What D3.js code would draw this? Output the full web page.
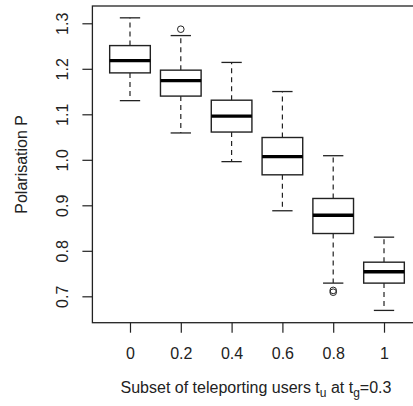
<!DOCTYPE html>
<html><head><meta charset="utf-8">
<script src="https://cdn.jsdelivr.net/npm/d3@7"></script>
<style>body{margin:0;background:#fff}svg{display:block}text{font-family:"Liberation Sans",Arial,sans-serif;fill:#222}</style>
</head><body><div id="chart"></div>
<script>
const categories = ["0","0.2","0.4","0.6","0.8","1"];
const whiskerLow = [1.130,1.059,0.996,0.888,0.729,0.669];
const q1 =        [1.191,1.140,1.061,0.967,0.838,0.729];
const median =    [1.218,1.174,1.096,1.007,0.878,0.754];
const q3 =        [1.251,1.197,1.131,1.049,0.915,0.775];
const whiskerHigh=[1.312,1.273,1.214,1.150,1.009,0.830];
const outliers = [[],[1.287],[],[],[0.713,0.709],[]];
const yTicks = [0.7,0.8,0.9,1.0,1.1,1.2,1.3];

const W=413,H=406;
const FONT="Liberation Sans, Arial, sans-serif";
const svg=d3.select("#chart").append("svg").attr("width",W).attr("height",H);
const x=d3.scaleLinear().domain([0.26,6.74]).range([92.4,421.6]);
const y=d3.scaleLinear().domain([0.642,1.338]).range([322.7,6]);
const bw=(x(1)-x(0))*0.8;
const stroke="#222";

// frame
svg.append("rect").attr("x",x(0.26)).attr("y",y(1.338)).attr("width",x(6.74)-x(0.26)).attr("height",y(0.642)-y(1.338))
  .attr("fill","none").attr("stroke",stroke).attr("stroke-width",1.3);

// y axis
const yAxis=d3.axisLeft(y).tickValues(yTicks).tickFormat(d3.format(".1f")).tickSizeOuter(0).tickSize(10);
const gy=svg.append("g").attr("transform",`translate(${x(0.26)},0)`).call(yAxis);
gy.select(".domain").remove();
gy.selectAll("line").attr("stroke",stroke).attr("stroke-width",1.2);
gy.selectAll(".tick text").attr("x",null).attr("dy","0.35em").attr("text-anchor","middle")
  .attr("transform","translate(-30,0) rotate(-90)")
  .attr("font-size",16).attr("font-family",FONT).attr("fill","#222");

// x axis
const xAxis=d3.axisBottom(x).tickValues(d3.range(1,7)).tickFormat((d)=>categories[d-1]).tickSizeOuter(0).tickSize(10).tickPadding(15);
const gx=svg.append("g").attr("transform",`translate(0,${y(0.642)})`).call(xAxis);
gx.select(".domain").remove();
gx.selectAll("line").attr("stroke",stroke).attr("stroke-width",1.2);
gx.selectAll("text").attr("font-size",16).attr("font-family",FONT).attr("fill","#222");

// boxes
categories.forEach((c,i)=>{
  const cx=x(i+1);
  const g=svg.append("g");
  g.append("line").attr("x1",cx).attr("x2",cx).attr("y1",y(q3[i])).attr("y2",y(whiskerHigh[i])).attr("stroke",stroke).attr("stroke-width",1.2).attr("stroke-dasharray","5,4");
  g.append("line").attr("x1",cx).attr("x2",cx).attr("y1",y(q1[i])).attr("y2",y(whiskerLow[i])).attr("stroke",stroke).attr("stroke-width",1.2).attr("stroke-dasharray","5,4");
  [whiskerHigh[i],whiskerLow[i]].forEach(v=>{
    g.append("line").attr("x1",cx-bw/4).attr("x2",cx+bw/4).attr("y1",y(v)).attr("y2",y(v)).attr("stroke",stroke).attr("stroke-width",1.3);
  });
  g.append("rect").attr("x",cx-bw/2).attr("width",bw).attr("y",y(q3[i])).attr("height",y(q1[i])-y(q3[i]))
    .attr("fill","#fff").attr("stroke",stroke).attr("stroke-width",1.4);
  g.append("line").attr("x1",cx-bw/2).attr("x2",cx+bw/2).attr("y1",y(median[i])).attr("y2",y(median[i])).attr("stroke","#000").attr("stroke-width",3.4);
  outliers[i].forEach(v=>{
    g.append("circle").attr("cx",cx).attr("cy",y(v)).attr("r",3.3).attr("fill","none").attr("stroke",stroke).attr("stroke-width",1);
  });
});

// axis titles
svg.append("text").attr("transform",`translate(21,${(y(1.338)+y(0.642))/2}) rotate(-90)`).attr("text-anchor","middle")
  .attr("dy","0.35em").attr("font-size",16).text("Polarisation P");
const xt=svg.append("text").attr("x",256).attr("y",393).attr("text-anchor","middle").attr("font-size",16);
xt.append("tspan").text("Subset of teleporting users t");
xt.append("tspan").attr("font-size",12).attr("dy",4).text("u");
xt.append("tspan").attr("dy",-4).text(" at t");
xt.append("tspan").attr("font-size",12).attr("dy",4).text("g");
xt.append("tspan").attr("dy",-4).text("=0.3");
</script></body></html>
